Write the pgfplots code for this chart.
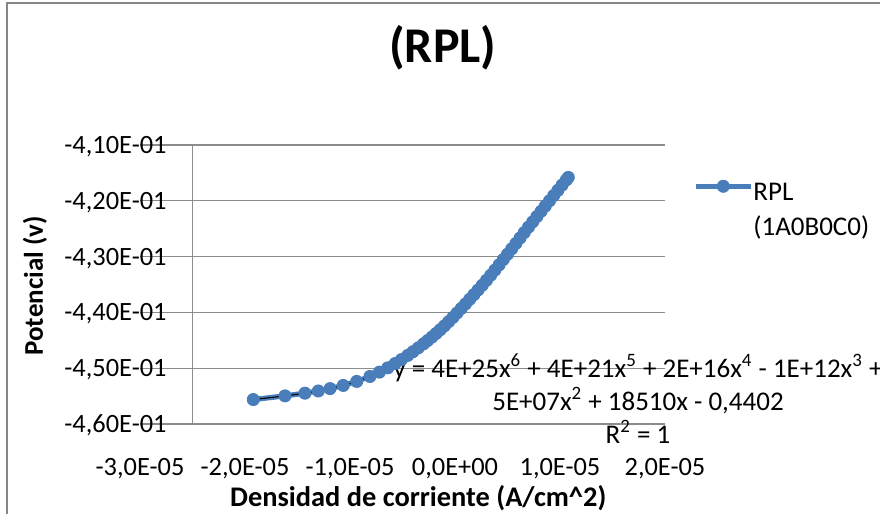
\documentclass[border=0pt]{standalone}
\usepackage{fontspec}
\setmainfont{Carlito}
\usepackage{pgfplots}
\pgfplotsset{compat=1.18}
\usepackage{pgfplotstable}

\definecolor{xlblue}{HTML}{4A7EBB}
\definecolor{gridgray}{HTML}{8C8C8C}
\definecolor{framegray}{HTML}{868686}

% Densidad de corriente (A/cm^2) vs Potencial (v)
\pgfplotstableread{
x y
-1.921e-5 -0.45562
-1.619e-5 -0.45496
-1.429e-5 -0.45448
-1.302e-5 -0.45408
-1.190e-5 -0.45366
-1.064e-5 -0.45309
-0.936e-5 -0.45237
-0.810e-5 -0.45148
-0.720e-5 -0.45071
-0.640e-5 -0.44993
-0.570e-5 -0.44916
-0.510e-5 -0.44846
-0.450e-5 -0.44771
-0.400e-5 -0.44705
-0.350e-5 -0.44636
-0.300e-5 -0.44564
-0.260e-5 -0.44504
-0.220e-5 -0.44442
-0.180e-5 -0.44378
-0.140e-5 -0.44310
-0.100e-5 -0.44240
-0.060e-5 -0.44166
-0.020e-5 -0.44090
0.020e-5 -0.44010
0.060e-5 -0.43929
0.100e-5 -0.43848
0.140e-5 -0.43765
0.180e-5 -0.43682
0.220e-5 -0.43598
0.260e-5 -0.43512
0.300e-5 -0.43424
0.340e-5 -0.43334
0.380e-5 -0.43242
0.420e-5 -0.43148
0.460e-5 -0.43053
0.500e-5 -0.42957
0.540e-5 -0.42861
0.580e-5 -0.42764
0.620e-5 -0.42666
0.660e-5 -0.42569
0.700e-5 -0.42472
0.740e-5 -0.42377
0.780e-5 -0.42282
0.820e-5 -0.42188
0.860e-5 -0.42094
0.900e-5 -0.42000
0.940e-5 -0.41906
0.980e-5 -0.41812
1.020e-5 -0.41718
1.060e-5 -0.41626
1.079e-5 -0.41581
}\rpldata

\begin{document}
\begin{tikzpicture}
\path[use as bounding box] (-70pt,-45pt) rectangle (370pt,212pt);
\draw[framegray, line width=0.8pt] (-66.5pt,-60pt) -- (-66.5pt,210.5pt) -- (380pt,210.5pt);
\begin{axis}[
  at={(0,0)}, anchor=south west,
  scale only axis,
  width=262.5pt, height=139.5pt,
  clip=false,
  xmin=-3e-5, xmax=2e-5,
  ymin=-0.46, ymax=-0.41,
  scaled x ticks=false, scaled y ticks=false,
  xtick={-3e-5,-2e-5,-1e-5,0,1e-5,2e-5},
  xticklabels={{-3,0E-05},{-2,0E-05},{-1,0E-05},{0,0E+00},{1,0E-05},{2,0E-05}},
  ytick={-0.46,-0.45,-0.44,-0.43,-0.42,-0.41},
  yticklabels={{-4,60E-01},{-4,50E-01},{-4,40E-01},{-4,30E-01},{-4,20E-01},{-4,10E-01}},
  tick label style={font=\fontsize{13.2}{15}\selectfont, inner sep=0pt},
  xticklabel style={anchor=base, yshift=-26pt},
  yticklabel style={anchor=base east, xshift=13.5pt, yshift=-4.2pt},
  axis line style={draw=none},
  major tick length=0pt,
  ymajorgrids,
  grid style={gridgray, line width=0.6pt},
  extra x ticks={-2.5e-5},
  extra x tick labels={},
  extra x tick style={grid=major},
  title={(RPL)},
  title style={at={(axis description cs:0.577,1.305)}, anchor=center,
    font=\fontsize{25}{29}\selectfont\bfseries},
  xlabel={Densidad de corriente (A/cm\textasciicircum 2)},
  xlabel style={at={(axis description cs:0.53,-0.265)}, anchor=center,
    font=\fontsize{14.2}{17}\selectfont\bfseries},
  ylabel={Potencial (v)},
  ylabel style={at={(axis description cs:-0.2,0.495)}, anchor=center, rotate=0,
    font=\fontsize{13.5}{16}\selectfont\bfseries},
  legend style={draw=none, fill=none, inner sep=0pt,
    at={(axis description cs:1.053,0.875)}, anchor=north west,
    font=\fontsize{13.5}{16}\selectfont,
    row sep=6pt,
    nodes={inner sep=0pt}},
  legend cell align=left,
  legend image code/.code={%
    \draw[#1, mark repeat=2, mark phase=2, yshift=3.5pt]
      plot coordinates {(0pt,0pt) (13.75pt,0pt) (27.5pt,0pt)};},
]
\addplot[xlblue, line width=2.6pt, mark=*, mark size=3pt,
  mark options={fill=xlblue, draw=xlblue, line width=0.5pt}] table[x=x, y=y] {\rpldata};
\addlegendentry{RPL}
\addlegendimage{empty legend}
\addlegendentry{(1A0B0C0)}
\addplot[black, line width=0.55pt, smooth, forget plot] table[x=x, y=y] {\rpldata};
\node[align=center, anchor=north, inner sep=0pt,
  font=\fontsize{13.5}{16.5}\selectfont]
  at (axis cs:1.743e-5,-0.44739)
  {y = 4E+25x\textsuperscript{6} + 4E+21x\textsuperscript{5} + 2E+16x\textsuperscript{4} - 1E+12x\textsuperscript{3} +\\
   5E+07x\textsuperscript{2} + 18510x - 0,4402\\
   R\textsuperscript{2} = 1};
\end{axis}
\end{tikzpicture}
\end{document}
